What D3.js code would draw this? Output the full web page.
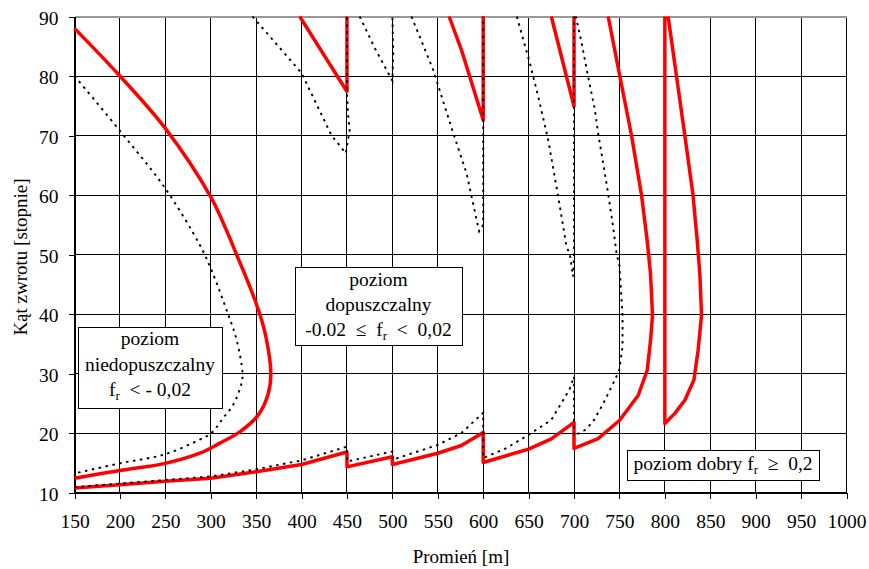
<!DOCTYPE html>
<html>
<head>
<meta charset="utf-8">
<script src="https://cdn.jsdelivr.net/npm/d3@7"></script>
<style>
body { margin: 0; background: #fff; }
svg text { font-family: "Liberation Serif", "Times New Roman", serif; fill: #000; white-space: pre; }
</style>
</head>
<body>
<svg width="869" height="569"></svg>
<script>
// tick labels
var xTicks = [150, 200, 250, 300, 350, 400, 450, 500, 550, 600, 650, 700, 750, 800, 850, 900, 950, 1000];
var yTicks = [10, 20, 30, 40, 50, 60, 70, 80, 90];

// red (solid) curves: [promien, kat]
var redLoop = [[150,88.0],[200,80.0],[250,71.2],[300,59.7],[315.5,54.7],[328.4,50],[343,44.6],[354,40],[361.4,35.7],[366.2,30],[363.3,26.6],[352.2,23.0],[332,20.2],[310,18.3],[288,16.6],[250,14.9],[200,13.7],[150,12.4]];
var redSaw = [[150,10.75],[200,11.3],[250,11.9],[300,12.4],[350,13.5],[400,14.7],[450,16.8],[450,14.3],[500,16.0],[500,14.7],[550,16.6],[576,17.9],[600,20.1],[600,15.05],[650,17.3],[675,19.0],[700,21.8],[700,17.4],[726.5,19.05],[750,22.1],[770.6,26.3],[780.5,30.5],[784.2,35.5],[786.4,39.8],[784.2,46.8],[780.5,52.4],[774.3,60],[763.3,70],[750.4,80],[737.6,90]];
var redV450 = [[398,90],[450,77.4],[450,90]];
var redV600 = [[562.5,90],[576,84.4],[600,72.6],[600,90]];
var redV700 = [[675,90],[700,74.9],[700,90]];
var redLoop800 = [[803.6,90],[812.8,80],[822,70],[831,60],[835.6,52.4],[838.5,46.8],[840.4,39.8],[836.6,33.9],[832,28.9],[822,25.5],[811,23.3],[800,21.6],[800,90]];

// black dotted curves
var dotLoop = [[150,80.0],[201,70.6],[249,61.3],[288,51.6],[300.8,47.4],[319,40],[328.4,35.7],[335,30],[334,28.4],[324.6,24.7],[313.6,22.5],[300.8,20],[288,18.9],[249,16.4],[200,14.9],[150,13.2]];
var dotSaw = [[150,10.9],[200,11.5],[250,12.1],[300,12.7],[350,13.9],[400,15.4],[450,17.7],[450,15.2],[500,16.9],[500,15.5],[550,18.0],[576,20.0],[600,23.4],[600,15.8],[626,17.5],[650,19.7],[675,22.2],[695,27.3],[700,29.5],[700,19.5],[712,20.5],[721,21.9],[732,24.9],[743,28.3],[749.7,30.5],[753.4,34.5],[753.4,39.8],[750,48.1],[746.8,50.2],[743,54.7],[737.5,60.3],[732,65.4],[726.5,70.4],[723,74.3],[715.5,79.9],[708,85.8],[702,90]];
var dotV450 = [[346,90],[400,80.5],[433,70],[448.7,67],[453,70.9],[451,74],[450,77],[450,90]];
var dotV500 = [[464,90],[480.6,84.7],[500,79.2],[501,84],[500,90]];
var dotV600 = [[521,90],[545,81],[567,70.4],[581.6,63.7],[595.5,53.9],[600,55],[600,90]];
var dotV700 = [[637,90],[651.3,82.2],[660.5,76.6],[671.5,69.3],[682.5,59.8],[691.7,51.4],[695.4,50],[699,46.3],[700,50],[700,90]];

var redSeries = [redLoop, redSaw, redV450, redV600, redV700, redLoop800];
var dotSeries = [dotLoop, dotSaw, dotV450, dotV500, dotV600, dotV700];
// the two left loops are smooth curves, the rest are polylines
var smooth = [redLoop, dotLoop];

var svg = d3.select("svg"),
    plot = {left: 74.5, right: 846.5, top: 16.5, bottom: 492.5};

var x = d3.scaleLinear().domain([150, 1000]).range([plot.left, plot.right]);
var y = d3.scaleLinear().domain([10, 90]).range([plot.bottom, plot.top]);

// grid
var grid = svg.append("g").attr("shape-rendering", "crispEdges");
grid.selectAll(".vx").data(xTicks).enter().append("line")
    .attr("x1", d => x(d)).attr("x2", d => x(d))
    .attr("y1", plot.top).attr("y2", plot.bottom)
    .attr("stroke", "#000").attr("stroke-width", 1);
grid.selectAll(".hy").data(yTicks).enter().append("line")
    .attr("x1", plot.left).attr("x2", plot.right)
    .attr("y1", d => y(d)).attr("y2", d => y(d))
    .attr("stroke", d => d == 90 ? "#999" : "#000")
    .attr("stroke-width", d => d == 90 ? 2 : 1);

// axes
var xAxis = svg.append("g")
    .attr("transform", "translate(0," + plot.bottom + ")")
    .call(d3.axisBottom(x).tickValues(xTicks).tickFormat(d3.format("d"))
      .tickSize(6).tickPadding(16).tickSizeOuter(0));
var yAxis = svg.append("g")
    .attr("transform", "translate(" + plot.left + ",0)")
    .call(d3.axisLeft(y).tickValues(yTicks).tickSize(6).tickPadding(10).tickSizeOuter(0));
[xAxis, yAxis].forEach(function(a) {
  a.attr("font-family", null).attr("font-size", null);
  a.selectAll("text").style("font-size", "19.5px");
  a.selectAll("line, path").attr("stroke", "#000").attr("shape-rendering", "crispEdges");
});
yAxis.selectAll("text").attr("dy", "0.4em");

svg.append("text")
    .attr("x", 461).attr("y", 563)
    .attr("text-anchor", "middle")
    .style("font-size", "19px")
    .text("Promień [m]");
svg.append("text")
    .attr("transform", "translate(27,257) rotate(-90)")
    .attr("text-anchor", "middle")
    .style("font-size", "19px")
    .text("Kąt zwrotu [stopnie]");

// curves
var line = d3.line().x(d => x(d[0])).y(d => y(d[1]));
var smoothLine = d3.line().x(d => x(d[0])).y(d => y(d[1])).curve(d3.curveCatmullRom.alpha(0.5));
var pathOf = d => smooth.indexOf(d) >= 0 ? smoothLine(d) : line(d);

svg.append("g").selectAll("path").data(redSeries).enter().append("path")
    .attr("d", pathOf)
    .attr("fill", "none")
    .attr("stroke", "#ff0000")
    .attr("stroke-width", 3.5)
    .attr("stroke-linejoin", "round");

svg.append("g").selectAll("path").data(dotSeries).enter().append("path")
    .attr("d", pathOf)
    .attr("fill", "none")
    .attr("stroke", "#000")
    .attr("stroke-width", 1.9)
    .attr("stroke-dasharray", "2.5,4.5");

// label boxes
function box(x0, y0, w, h, lines, baselines) {
  var g = svg.append("g");
  g.append("rect")
      .attr("x", x0 + 0.5).attr("y", y0 + 0.5)
      .attr("width", w).attr("height", h)
      .attr("fill", "#fff").attr("stroke", "#000").attr("stroke-width", 1);
  lines.forEach(function(s, i) {
    var t = g.append("text")
        .attr("x", x0 + w / 2).attr("y", baselines[i])
        .attr("text-anchor", "middle")
        .style("font-size", "19.5px");
    var parts = s.split("_r");
    parts.forEach(function(p, j) {
      if (j > 0) {
        t.append("tspan").attr("dy", 4).style("font-size", "13px").text("r");
        t.append("tspan").attr("dy", -4).text(p);
      } else {
        t.append("tspan").text(p);
      }
    });
  });
}

box(78, 327, 144, 81, ["poziom", "niedopuszczalny", "f_r  < - 0,02"], [345, 370.5, 396]);
box(295, 267, 167, 78, ["poziom", "dopuszczalny", "-0.02  ≤  f_r  <  0,02"], [286, 311, 336]);
box(627, 450, 192, 30, ["poziom dobry f_r  ≥  0,2"], [470]);
</script>
</body>
</html>
